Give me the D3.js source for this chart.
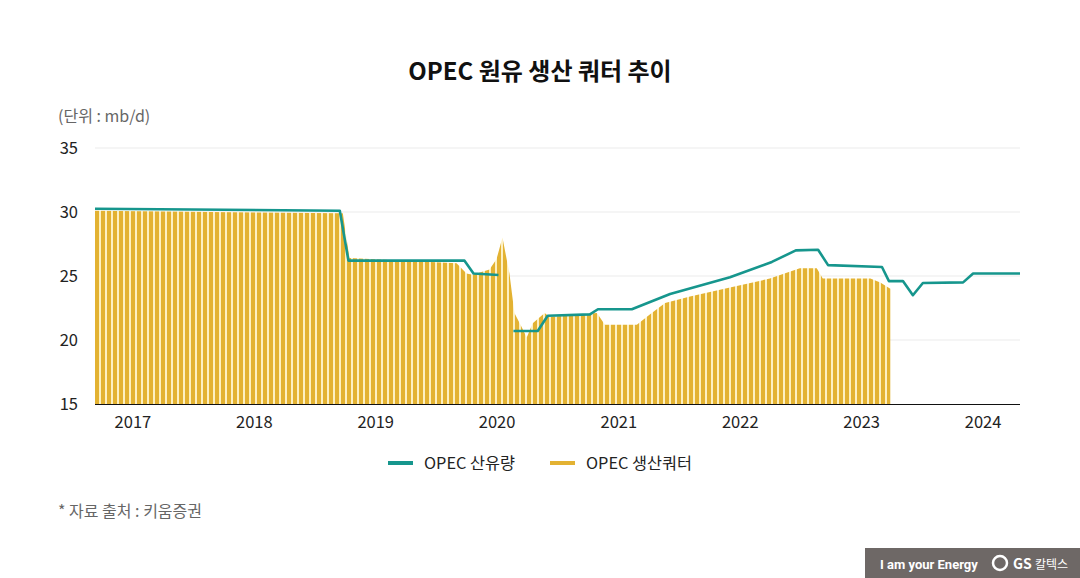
<!DOCTYPE html>
<html><head><meta charset="utf-8">
<script src="https://cdn.jsdelivr.net/npm/d3@7"></script>
<style>
body{margin:0;background:#fff;}
svg{display:block;font-family:"Noto Sans CJK KR","Noto Sans",sans-serif;}
</style></head>
<body>
<svg id="c" width="1080" height="578"></svg>
<script>
// ---- data ----
const prodDates = ["2016-09-09","2018-09-15","2018-10-11","2019-09-25","2019-10-22","2020-01-05",null,
  "2020-02-19","2020-05-02","2020-06-01","2020-10-06","2020-10-30","2021-02-09","2021-06-04","2021-12-01",
  "2022-04-06","2022-06-17","2022-08-23","2022-09-22","2023-03-03","2023-03-24","2023-05-05","2023-06-04",
  "2023-07-04","2023-11-02","2023-12-02","2024-04-21"];
const prodValues = [30.25,30.1,26.2,26.2,25.2,25.08,null,
  20.7,20.7,21.9,22.0,22.4,22.4,23.6,24.9,
  26.1,27.0,27.05,25.85,25.7,24.6,24.6,23.5,
  24.45,24.5,25.2,25.2];
const quotaDates = ["2016-09-09","2018-09-15","2018-09-24","2018-10-14","2019-09-01","2019-10-01","2019-10-19",
  "2019-12-09","2019-12-30","2020-01-17","2020-02-07","2020-02-22","2020-03-15","2020-03-30","2020-04-17",
  "2020-05-23","2020-06-07","2020-10-27","2020-11-20","2021-02-24","2021-04-04","2021-05-20","2021-08-03",
  "2021-12-01","2022-03-31","2022-06-29","2022-08-19","2022-09-06","2023-01-27","2023-02-26","2023-03-28"];
const quotaValues = [30.1,29.9,29.9,26.4,26.0,25.2,25.1,
  25.5,26.3,28.0,25.2,22.1,21.0,20.2,21.3,
  22.1,21.8,22.1,21.2,21.2,22.0,22.9,23.4,
  24.1,24.8,25.6,25.6,24.8,24.8,24.5,24.0];
const yearLabels = ["2017","2018","2019","2020","2021","2022","2023","2024"];
const yTicks = [15,20,25,30,35];
const seriesNames = ["OPEC 산유량","OPEC 생산쿼터"];
const colors = {teal:"#16968d", yellow:"#e3b232", gap:"#fdf0c2"};

const svg = d3.select("#c");
const parse = d3.timeParse("%Y-%m-%d");
const x = d3.scaleTime().domain([parse("2016-09-09"), parse("2024-04-21")]).range([95,1020]);
const y = d3.scaleLinear().domain([15,35]).range([404,148]);

// pattern
const defs = svg.append("defs");
const pat = defs.append("pattern").attr("id","stripes").attr("patternUnits","userSpaceOnUse")
  .attr("x",95).attr("width",6).attr("height",10);
pat.append("rect").attr("width",6).attr("height",10).attr("fill",colors.gap);
pat.append("rect").attr("x",0).attr("width",4).attr("height",10).attr("fill",colors.yellow);

// title
svg.append("text").attr("x",540).attr("y",80).attr("text-anchor","middle")
  .attr("font-size",24).attr("font-weight",700).attr("fill","#111").text("OPEC 원유 생산 쿼터 추이");
svg.append("text").attr("x",58).attr("y",122).attr("font-size",16).attr("fill","#666").text("(단위 : mb/d)");

// grid
svg.append("g").selectAll("line").data(yTicks.filter(d=>d>15)).join("line")
  .attr("x1",95).attr("x2",1020).attr("y1",d=>y(d)).attr("y2",d=>y(d))
  .attr("stroke","#ebebeb").attr("stroke-width",1);
svg.append("g").selectAll("text").data(yTicks).join("text")
  .attr("x",78).attr("y",d=>y(d)+6).attr("text-anchor","end").attr("font-size",16.5).attr("fill","#222").text(d=>d);

// area
const qdata = quotaDates.map((d,i)=>({d:parse(d),v:quotaValues[i]}));
svg.append("path").datum(qdata)
  .attr("d",d3.area().x(d=>x(d.d)).y0(y(15)).y1(d=>y(d.v)))
  .attr("fill","url(#stripes)");

// axis line
svg.append("line").attr("x1",95).attr("x2",1020).attr("y1",404.5).attr("y2",404.5).attr("stroke","#111").attr("stroke-width",1.2);
svg.append("g").selectAll("text").data(yearLabels).join("text")
  .attr("x",d=>x(parse(d+"-01-01"))).attr("y",428).attr("text-anchor","middle")
  .attr("font-size",16.5).attr("fill","#222").text(d=>d);

// line
const pdata = prodDates.map((d,i)=>({d:d?parse(d):null,v:prodValues[i]}));
svg.append("path").datum(pdata)
  .attr("d",d3.line().defined(d=>d.d!==null).x(d=>x(d.d)).y(d=>y(d.v)))
  .attr("fill","none").attr("stroke",colors.teal).attr("stroke-width",2.6).attr("stroke-linejoin","round");

// legend
const leg = [{n:seriesNames[0],c:colors.teal,x:388},{n:seriesNames[1],c:colors.yellow,x:550}];
const lg = svg.append("g").selectAll("g").data(leg).join("g").attr("transform",d=>`translate(${d.x},463)`);
lg.append("rect").attr("x",0).attr("y",-2).attr("width",25).attr("height",4).attr("fill",d=>d.c);
lg.append("text").attr("x",36).attr("y",6).attr("font-size",16.3).attr("fill","#222").text(d=>d.n);

// source
svg.append("text").attr("x",58).attr("y",517).attr("font-size",16).attr("fill","#666").text("* 자료 출처 : 키움증권");

// logo
svg.append("rect").attr("x",865).attr("y",548).attr("width",215).attr("height",30).attr("fill","#6e6866");
svg.append("text").attr("x",880).attr("y",569).attr("font-size",13).attr("font-weight",700).attr("fill","#fff")
  .attr("font-family","Roboto, sans-serif").text("I am your Energy");
svg.append("circle").attr("cx",1000).attr("cy",563).attr("r",7).attr("fill","none").attr("stroke","#fff").attr("stroke-width",2.5);
svg.append("text").attr("x",1013).attr("y",569).attr("font-size",14).attr("font-weight",700).attr("fill","#fff").text("GS");
svg.append("text").attr("x",1035).attr("y",569).attr("font-size",12).attr("fill","#fff").text("칼텍스");
</script>
</body></html>
